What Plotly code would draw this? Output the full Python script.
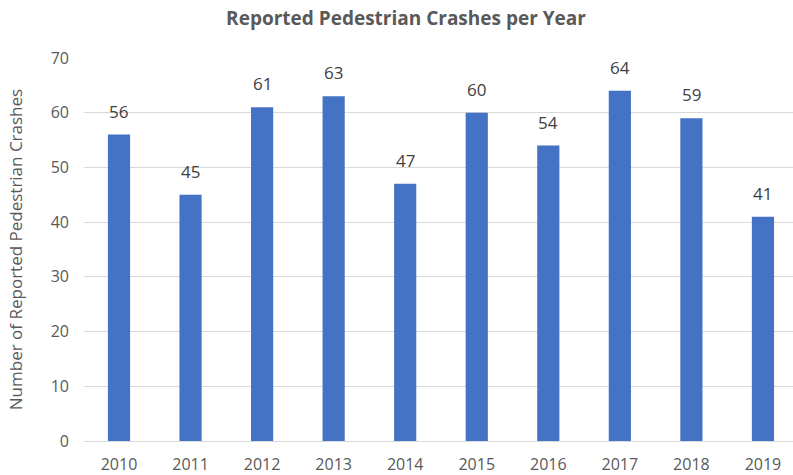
import plotly.graph_objects as go

years = ["2010", "2011", "2012", "2013", "2014", "2015", "2016", "2017", "2018", "2019"]
crashes = [56, 45, 61, 63, 47, 60, 54, 64, 59, 41]

fig = go.Figure()
fig.add_trace(go.Bar(
    x=years, y=crashes,
    marker=dict(color="#4472C4", line=dict(width=0)),
    width=0.31,
))

# value labels sit a bit higher than plotly's "outside" text
for i, val in enumerate(crashes):
    fig.add_annotation(x=i, y=val, text=str(val), showarrow=False,
                       yanchor="bottom", yshift=10,
                       font=dict(family="Open Sans", size=17, color="#404040"))

fig.update_layout(
    width=793, height=475,
    margin=dict(l=84, r=0, t=58, b=34),
    paper_bgcolor="white", plot_bgcolor="white",
    title=dict(text="<b>Reported Pedestrian Crashes per Year</b>",
               x=0.512, xanchor="center", y=0.962, yanchor="middle",
               font=dict(family="Open Sans", size=19, color="#595959")),
    showlegend=False,
    font=dict(family="Open Sans", color="#595959"),
)

fig.update_xaxes(type="category", range=[-0.489, 9.42], showgrid=False, ticks="",
                 showline=False, zeroline=False, automargin=False,
                 ticklabelstandoff=12,
                 tickfont=dict(size=16, color="#595959"))
fig.update_yaxes(range=[0, 70], dtick=10, showgrid=True, gridcolor="#d9d9d9",
                 gridwidth=1, zeroline=True, zerolinecolor="#d9d9d9",
                 zerolinewidth=1, ticks="", ticklabelstandoff=14,
                 automargin=False,
                 tickfont=dict(size=16, color="#595959"),
                 title=dict(text="Number of Reported Pedestrian Crashes",
                            font=dict(size=17, color="#595959"), standoff=23))

fig.write_html("out.html", config={"displayModeBar": False},
               post_script="document.body.style.margin = '0';")
